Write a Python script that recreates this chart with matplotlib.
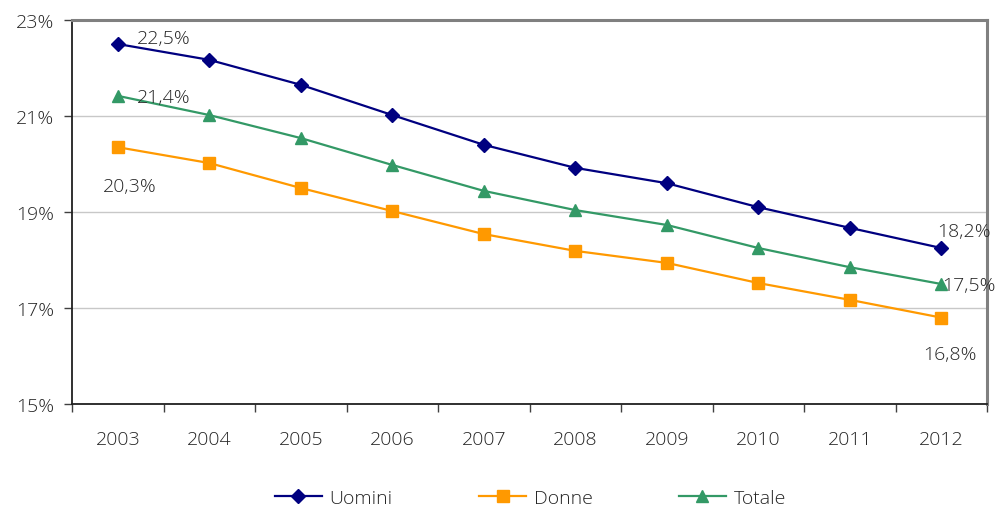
import matplotlib
matplotlib.use("Agg")
import matplotlib.pyplot as plt
from matplotlib.ticker import FuncFormatter

years = ["2003", "2004", "2005", "2006", "2007", "2008", "2009", "2010", "2011", "2012"]
uomini = [22.5, 22.17, 21.65, 21.02, 20.40, 19.92, 19.60, 19.10, 18.67, 18.25]
donne = [20.35, 20.02, 19.50, 19.02, 18.54, 18.19, 17.94, 17.52, 17.17, 16.80]
totale = [21.42, 21.02, 20.54, 19.98, 19.44, 19.04, 18.73, 18.25, 17.85, 17.50]

plt.rcParams['font.family'] = ['Open Sans', 'DejaVu Sans']
plt.rcParams['font.weight'] = 'light'
txt = '#262626'
fs = 14

fig = plt.figure(figsize=(9.99, 5.10), dpi=100)
ax = fig.add_axes([0.0721, 0.2059, 0.9159, 0.7529])

x = [i + 0.5 for i in range(len(years))]
ax.plot(x, uomini, color='#000080', marker='D', markersize=7, lw=1.6, label='Uomini')
ax.plot(x, donne, color='#FF9900', marker='s', markersize=8, lw=1.6, label='Donne')
ax.plot(x, totale, color='#339966', marker='^', markersize=9, lw=1.6, label='Totale')

ax.set_xlim(0, len(years))
ax.set_ylim(15, 23)
ax.set_yticks([15, 17, 19, 21, 23])
ax.yaxis.set_major_formatter(FuncFormatter(lambda v, p: f"{int(v)}%"))
ax.set_xticks(range(len(years) + 1))
ax.set_xticklabels([])
ax.set_xticks(x, minor=True)
ax.set_xticklabels(years, minor=True)
ax.tick_params(axis='x', which='minor', length=0, pad=19, labelsize=fs, labelcolor=txt)
ax.tick_params(axis='x', which='major', length=6, width=1, direction='out', color='#404040')
ax.tick_params(axis='y', length=6, width=1, direction='out', color='#404040', labelsize=fs, labelcolor=txt, pad=7)

ax.grid(axis='y', color='#C8C8C8', lw=1)
ax.set_axisbelow(True)
for s in ['left', 'bottom']:
    ax.spines[s].set_color('#202020')
    ax.spines[s].set_linewidth(1.3)
for s in ['top', 'right']:
    ax.spines[s].set_color('#808080')
    ax.spines[s].set_linewidth(2.2)

def fmt(v):
    return f"{v:.1f}%".replace('.', ',')

kw = dict(textcoords='offset points', fontsize=fs, color=txt, va='center', ha='left')
ax.annotate(fmt(22.5), (x[0], uomini[0]), xytext=(14, 4), **kw)
ax.annotate(fmt(21.4), (x[0], totale[0]), xytext=(14, -1), **kw)
ax.annotate(fmt(20.3), (x[0], donne[0]), xytext=(-11, -28), **kw)
ax.annotate(fmt(18.2), (x[-1], uomini[-1]), xytext=(-3, 12), **kw)
ax.annotate(fmt(17.5), (x[-1], totale[-1]), xytext=(1, -1), **kw)
ax.annotate(fmt(16.8), (x[-1], donne[-1]), xytext=(-13, -26), **kw)

leg = fig.legend(loc='lower center', bbox_to_anchor=(0.531, -0.03), ncol=3, frameon=False,
                 fontsize=fs, handlelength=2.4, columnspacing=4.45, handletextpad=0.4)
for t in leg.get_texts():
    t.set_color(txt)

fig.savefig('out.png', dpi=100)
